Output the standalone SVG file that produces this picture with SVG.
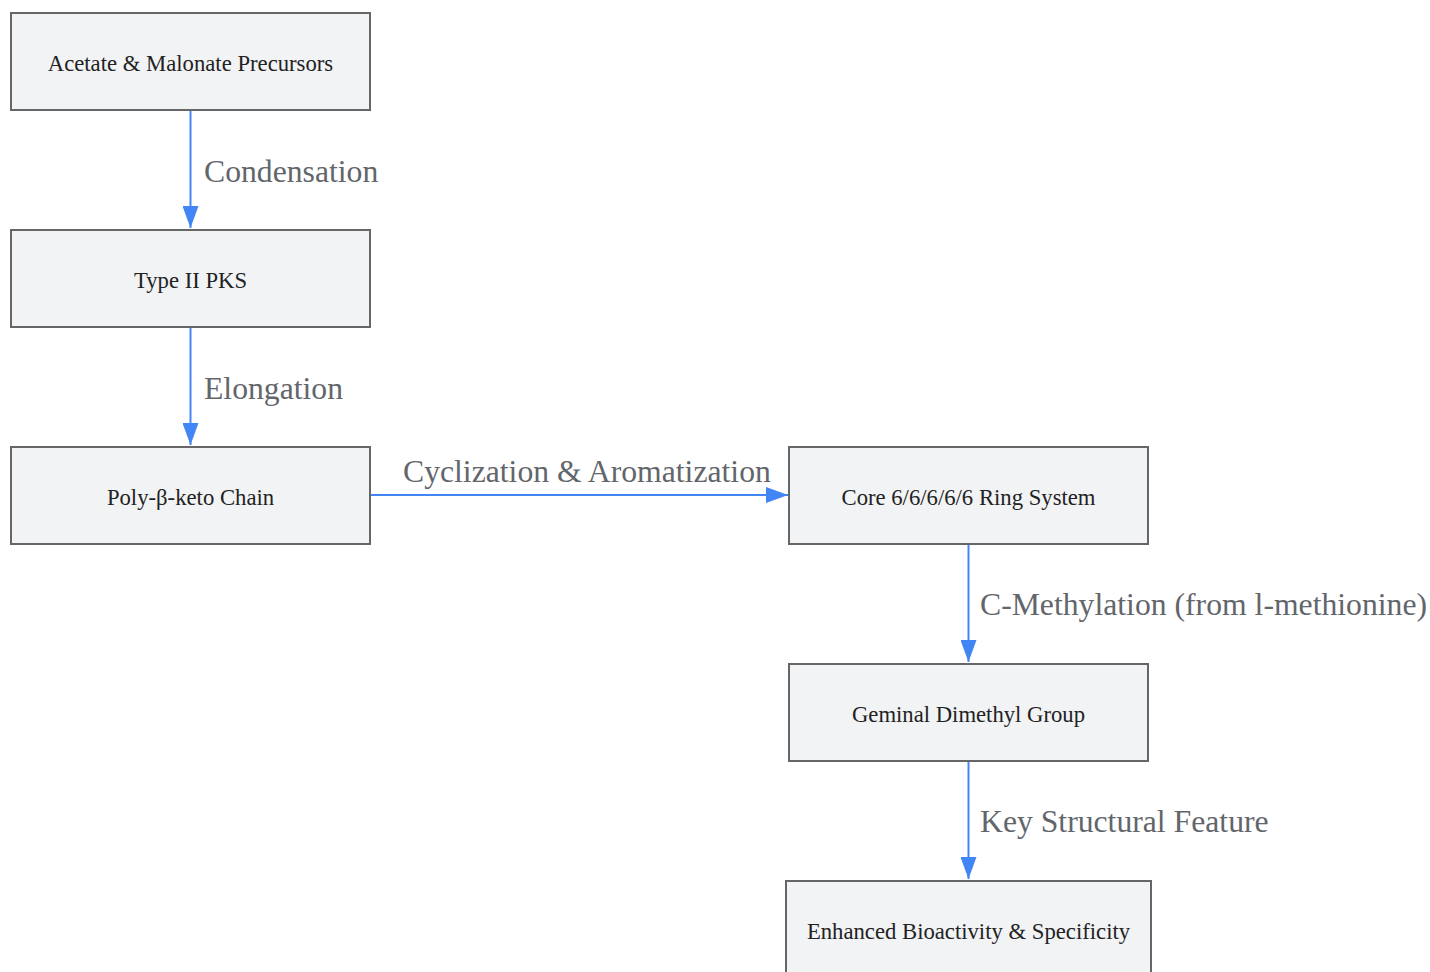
<svg xmlns="http://www.w3.org/2000/svg" width="1430" height="972" viewBox="0 0 1430 972">
<style>
.node rect{fill:#f2f3f5;stroke:#666666;stroke-width:2}
.node text{font-family:"Liberation Serif","Times New Roman",serif;font-size:22.7px;fill:#222222;text-anchor:middle}
.edge line{stroke:#4285f4;stroke-width:2;fill:none}
.lbl{font-family:"Liberation Serif","Times New Roman",serif;font-size:31.7px;fill:#62666b}
</style>
<defs>
<marker id="arr" viewBox="0 0 22 16" refX="22" refY="8" markerWidth="22" markerHeight="16" markerUnits="userSpaceOnUse" orient="auto">
<path d="M0,0 L22,8 L0,16 Z" fill="#4285f4"/>
</marker>
</defs>
<rect width="1430" height="972" fill="#ffffff"/>
<g id="connectors">
<g class="edge"><line x1="190.5" y1="111" x2="190.5" y2="228" marker-end="url(#arr)"/></g>
<g class="edge"><line x1="190.5" y1="328" x2="190.5" y2="445" marker-end="url(#arr)"/></g>
<g class="edge"><line x1="371" y1="495" x2="788" y2="495" marker-end="url(#arr)"/></g>
<g class="edge"><line x1="968.5" y1="545" x2="968.5" y2="662" marker-end="url(#arr)"/></g>
<g class="edge"><line x1="968.5" y1="762" x2="968.5" y2="879" marker-end="url(#arr)"/></g>
<text class="lbl" x="204" y="182">Condensation</text>
<text class="lbl" x="204" y="399">Elongation</text>
<text class="lbl" x="403" y="482">Cyclization &amp; Aromatization</text>
<text class="lbl" x="980" y="615">C-Methylation (from l-methionine)</text>
<text class="lbl" x="980" y="832">Key Structural Feature</text>
</g>
<g id="n1" class="node"><rect x="11" y="13" width="359" height="97"/><text x="190.5" y="70.5">Acetate &amp; Malonate Precursors</text></g>
<g id="n2" class="node"><rect x="11" y="230" width="359" height="97"/><text x="190.5" y="287.5">Type II PKS</text></g>
<g id="n3" class="node"><rect x="11" y="447" width="359" height="97"/><text x="190.5" y="504.5">Poly-β-keto Chain</text></g>
<g id="n4" class="node"><rect x="789" y="447" width="359" height="97"/><text x="968.5" y="504.5">Core 6/6/6/6/6 Ring System</text></g>
<g id="n5" class="node"><rect x="789" y="664" width="359" height="97"/><text x="968.5" y="721.5">Geminal Dimethyl Group</text></g>
<g id="n6" class="node"><rect x="786" y="881" width="365" height="97"/><text x="968.5" y="938.5">Enhanced Bioactivity &amp; Specificity</text></g>
</svg>
